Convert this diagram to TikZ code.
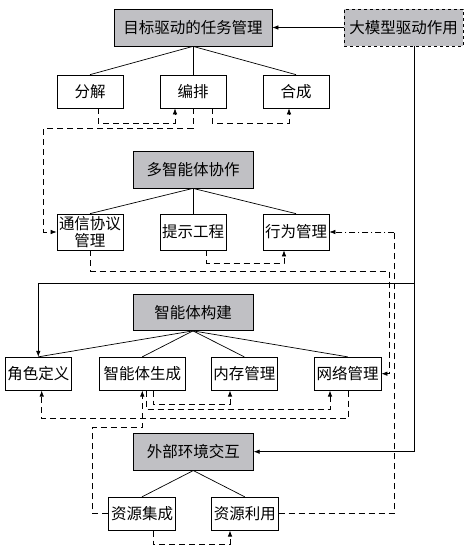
\documentclass[tikz,border=0pt]{standalone}
\usepackage{fontspec}
\newfontfamily\cjk{Noto Sans CJK SC}
\definecolor{hdgray}{HTML}{C0C0C4}
\usetikzlibrary{arrows.meta,positioning}

\begin{document}
\begin{tikzpicture}[
    x=1pt, y=-1pt,
    line width=0.7pt,
    base/.style={draw, inner sep=1pt, align=center,
                 font=\cjk\fontsize{15.5}{17}\selectfont},
    head/.style={base, fill=hdgray, minimum width=120pt, minimum height=37pt},
    llmbox/.style={base, fill=hdgray, dashed, minimum width=119pt, minimum height=37pt},
    sub/.style={base, fill=white, minimum width=66pt, minimum height=33pt},
    arr/.style={-{Latex[length=6pt, width=4.5pt]}},
    dsh/.style={dash pattern=on 6pt off 4pt},
    dshdot/.style={dash pattern=on 6pt off 3pt on 1pt off 3pt},
  ]
  \useasboundingbox (0,0) rectangle (470,547);

  % task management
  \node[head, minimum width=158pt] (goal) at (193,27.5) {目标驱动的任务管理};
  \node[llmbox] (llm) at (403.5,27.5) {大模型驱动作用};
  \node[sub] (decomp) at (90,91.5)  {分解};
  \node[sub] (orch)   at (193,91.5) {编排};
  \node[sub] (synth)  at (296,91.5) {合成};

  % multi-agent collaboration
  \node[head] (multi) at (193,169.5) {多智能体协作};
  \node[sub, minimum height=36pt] (comm)   at (90,232)  {通信协议\\管理};
  \node[sub, minimum height=36pt] (prompt) at (193,232) {提示工程};
  \node[sub, minimum height=36pt] (behav)  at (296,232) {行为管理};

  % agent construction
  \node[head, minimum height=36pt] (build) at (193,312.5) {智能体构建};
  \node[sub, minimum width=66.7pt] (role) at (38.3,373.7)  {角色定义};
  \node[sub, minimum width=86pt]   (gen)  at (142.3,373.7) {智能体生成};
  \node[sub] (mem)  at (244.3,373.7) {内存管理};
  \node[sub, minimum width=66.7pt] (net)  at (347.7,373.7) {网络管理};

  % environment interaction
  \node[head] (env) at (193.3,451.7) {外部环境交互};
  \node[sub, minimum width=67pt] (integ) at (142,513.7)   {资源集成};
  \node[sub, minimum width=67pt] (use)   at (244.8,513.7) {资源利用};

  % tree lines
  \draw (goal.south) -- (decomp.north);
  \draw (goal.south) -- (orch.north);
  \draw (goal.south) -- (synth.north);
  \draw (multi.south) -- (comm.north);
  \draw (multi.south) -- (prompt.north);
  \draw (multi.south) -- (behav.north);
  \draw (build.south) -- (role.north);
  \draw (build.south) -- (gen.north);
  \draw (build.south) -- (mem.north);
  \draw (build.south) -- (net.north);
  \draw (env.south) -- (integ.north);
  \draw (env.south) -- (use.north);

  % llm links
  \draw[arr] (llm) -- (goal);
  \draw[arr] ([xshift=11pt]llm.south) -- ++(0,237) -| (role.north);
  \draw[arr] ([xshift=11pt]llm.south) |- (env.east);

  % dashed flows
  \draw[dsh, arr] ([xshift=8pt]decomp.south) -- ++(0,15) -| ([xshift=-18pt]orch.south);
  \draw[dsh, arr] ([xshift=19pt]orch.south) -- ++(0,15) -| ([xshift=-7pt]synth.south);
  \draw[dsh, arr] (orch.south) -- ++(0,20) -| ([xshift=-13pt]comm.west) -- (comm.west);
  \draw[dsh, arr] ([xshift=13.7pt]prompt.south) -- ++(0,13) -| ([xshift=-12pt]behav.south);
  \draw[dsh, arr] ([xshift=0.7pt]comm.south) -- ++(0,21) -| ([xshift=8pt]net.east) -- (net.east);
  \draw[dsh] (use.east) -| ([xshift=65pt]behav.east) coordinate (bend);
  \draw[dshdot, arr] (bend) -- (behav.east);
  \draw[dsh, arr] ([xshift=11pt]gen.south) -- ++(0,14) -| ([xshift=-14.3pt]mem.south);
  \draw[dsh, arr] ([xshift=4.4pt]gen.south) -- ++(0,19) -| ([xshift=-17.7pt]net.south);
  \draw[dsh, arr] ([xshift=0.6pt]net.south) -- ++(0,27.7) -| ([xshift=3.4pt]role.south);
  \draw[dsh, arr] (integ.west) -- ++(-15.6,0) |- ([yshift=-37pt]gen.south) -- (gen.south);
  \draw[dsh, arr] ([xshift=11.3pt]integ.south) -- ++(0,14) -| ([xshift=-14.8pt]use.south);
\end{tikzpicture}
\end{document}
